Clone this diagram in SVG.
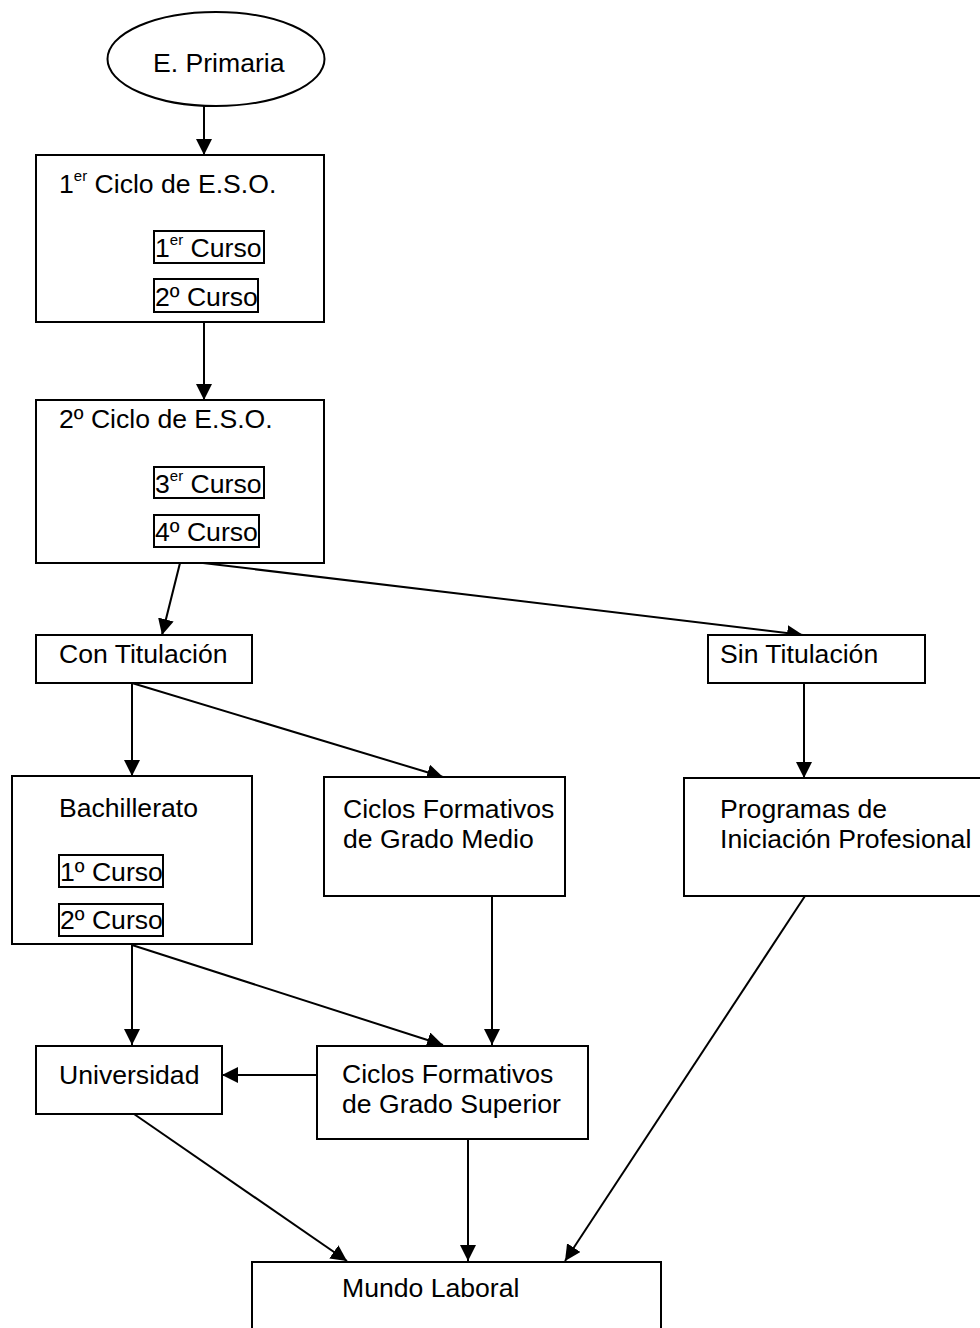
<svg xmlns="http://www.w3.org/2000/svg" width="980" height="1328" viewBox="0 0 980 1328">
<style>
.b{fill:#fff;stroke:#000;stroke-width:2}
.i{fill:none;stroke:#000;stroke-width:2}
.t{font-family:"Liberation Sans",Arial,sans-serif;font-size:26.6px;fill:#000}
.c{stroke:#000;stroke-width:2;fill:none;marker-end:url(#ah)}
</style>
<defs>
<marker id="ah" markerUnits="userSpaceOnUse" markerWidth="16" markerHeight="16" viewBox="0 0 16 16" refX="16" refY="8" orient="auto">
<path d="M0,0 L16,8 L0,16 Z" fill="#000"/>
</marker>
</defs>
<rect width="980" height="1328" fill="#fff"/>
<g id="connectors">
<line class="c" x1="204" y1="106" x2="204" y2="155"/>
<line class="c" x1="204" y1="322" x2="204" y2="400"/>
<line class="c" x1="180" y1="563" x2="162" y2="635"/>
<line class="c" x1="203" y1="563" x2="803" y2="635"/>
<line class="c" x1="132" y1="683" x2="132" y2="776"/>
<line class="c" x1="132" y1="683" x2="443" y2="777"/>
<line class="c" x1="804" y1="683" x2="804" y2="778"/>
<line class="c" x1="132" y1="945" x2="132" y2="1045"/>
<line class="c" x1="132" y1="945" x2="443" y2="1045"/>
<line class="c" x1="492" y1="896" x2="492" y2="1045"/>
<line class="c" x1="317" y1="1075" x2="222" y2="1075"/>
<line class="c" x1="134" y1="1114" x2="347" y2="1261"/>
<line class="c" x1="468" y1="1139" x2="468" y2="1261"/>
<line class="c" x1="805" y1="896" x2="565" y2="1261"/>
</g>
<g id="primaria">
<ellipse class="b" cx="216" cy="59" rx="108.5" ry="47"/>
<text class="t" x="153" y="72">E. Primaria</text>
</g>
<g id="ciclo1">
<rect class="b" x="36" y="155" width="288" height="167"/>
<text class="t" x="59" y="193">1<tspan font-size="15" dy="-12">er</tspan><tspan dy="12"> Ciclo de E.S.O.</tspan></text>
<rect class="i" x="154" y="231" width="110" height="32"/>
<text class="t" x="155" y="257">1<tspan font-size="15" dy="-12">er</tspan><tspan dy="12"> Curso</tspan></text>
<rect class="i" x="154" y="279" width="104" height="33"/>
<text class="t" x="155" y="306">2º Curso</text>
</g>
<g id="ciclo2">
<rect class="b" x="36" y="400" width="288" height="163"/>
<text class="t" x="59" y="428">2º Ciclo de E.S.O.</text>
<rect class="i" x="154" y="467" width="110" height="31"/>
<text class="t" x="155" y="493">3<tspan font-size="15" dy="-12">er</tspan><tspan dy="12"> Curso</tspan></text>
<rect class="i" x="154" y="515" width="105" height="32"/>
<text class="t" x="155" y="541">4º Curso</text>
</g>
<g id="contitulacion">
<rect class="b" x="36" y="635" width="216" height="48"/>
<text class="t" x="59" y="663">Con Titulación</text>
</g>
<g id="sintitulacion">
<rect class="b" x="708" y="635" width="217" height="48"/>
<text class="t" x="720" y="663">Sin Titulación</text>
</g>
<g id="bachillerato">
<rect class="b" x="12" y="776" width="240" height="168"/>
<text class="t" x="59" y="817">Bachillerato</text>
<rect class="i" x="59" y="855" width="104" height="32"/>
<text class="t" x="60" y="881">1º Curso</text>
<rect class="i" x="59" y="904" width="104" height="32"/>
<text class="t" x="60" y="929">2º Curso</text>
</g>
<g id="gradomedio">
<rect class="b" x="324" y="777" width="241" height="119"/>
<text class="t" x="343" y="818">Ciclos Formativos</text>
<text class="t" x="343" y="848">de Grado Medio</text>
</g>
<g id="programas">
<rect class="b" x="684" y="778" width="300" height="118"/>
<text class="t" x="720" y="818">Programas de</text>
<text class="t" x="720" y="848">Iniciación Profesional</text>
</g>
<g id="universidad">
<rect class="b" x="36" y="1046" width="186" height="68"/>
<text class="t" x="59" y="1084">Universidad</text>
</g>
<g id="gradosuperior">
<rect class="b" x="317" y="1046" width="271" height="93"/>
<text class="t" x="342" y="1083">Ciclos Formativos</text>
<text class="t" x="342" y="1113">de Grado Superior</text>
</g>
<g id="mundolaboral">
<rect class="b" x="252" y="1262" width="409" height="80"/>
<text class="t" x="342" y="1297">Mundo Laboral</text>
</g>
</svg>
